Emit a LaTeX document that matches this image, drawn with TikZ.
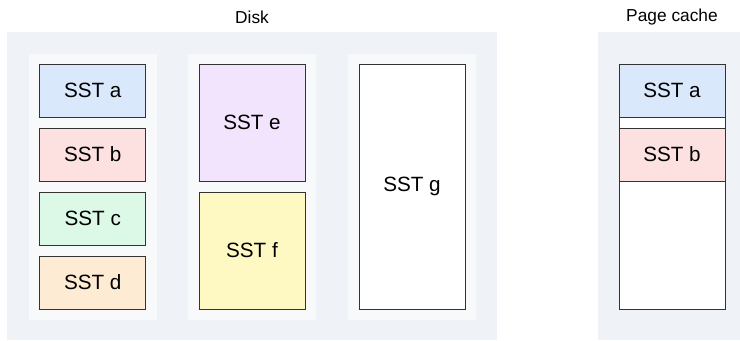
\documentclass[tikz,border=0pt]{standalone}
\usepackage{fontspec}
\setmainfont{Liberation Sans}
\definecolor{areabg}{HTML}{EFF2F7}
\definecolor{lanebg}{HTML}{F8F9FB}
\definecolor{edge}{HTML}{333333}
\definecolor{sstblue}{HTML}{DAE8FC}
\definecolor{sstred}{HTML}{FDE0E0}
\definecolor{sstgreen}{HTML}{DCF9E7}
\definecolor{sstorange}{HTML}{FEEBD4}
\definecolor{sstpurple}{HTML}{F2E4FD}
\definecolor{sstyellow}{HTML}{FEF8C3}
\tikzset{
  area/.style={fill=areabg, draw=none},
  lane/.style={fill=lanebg, draw=none},
  sst/.style={draw=edge, line width=0.75pt, rectangle, inner sep=0pt,
    minimum width=106*0.75pt, font=\fontsize{15.5}{18}\selectfont},
  title/.style={font=\fontsize{13}{15}\selectfont, text=black},
}
\begin{document}
\begin{tikzpicture}[x=0.75pt,y=-0.75pt]
\useasboundingbox (0,0) rectangle (740,340);
% background areas
\fill[area] (7,32) rectangle (497,340);
\fill[area] (598,32) rectangle (740,340);
\fill[lane] (29,54) rectangle (157,320);
\fill[lane] (188,54) rectangle (316,320);
\fill[lane] (348,54) rectangle (476,320);
\node[title] (disk) at (252,17) {Disk};
\node[title] (cache) at (672,17) {Page cache};
% disk files
\node[sst, fill=sstblue, minimum height=53*0.75pt] (a) at (92.75,90.5) {SST a};
\node[sst, fill=sstred, minimum height=53*0.75pt] (b) at (92.75,154.5) {SST b};
\node[sst, fill=sstgreen, minimum height=53*0.75pt] (c) at (92.75,218.5) {SST c};
\node[sst, fill=sstorange, minimum height=53*0.75pt] (d) at (92.75,282.5) {SST d};
\node[sst, fill=sstpurple, minimum height=117*0.75pt] (e) at (252,122.5) {SST e};
\node[sst, fill=sstyellow, minimum height=117*0.75pt] (f) at (252,250.5) {SST f};
\node[sst, fill=white, minimum height=245*0.75pt] (g) at (412,186.5) {SST g};
% page cache
\node[sst, fill=white, minimum height=245*0.75pt] (pc) at (672,186.5) {};
\node[sst, fill=sstblue, minimum height=53*0.75pt] (ca) at (672,90.5) {SST a};
\node[sst, fill=sstred, minimum height=53*0.75pt] (cb) at (672,154.5) {SST b};
\end{tikzpicture}
\end{document}
